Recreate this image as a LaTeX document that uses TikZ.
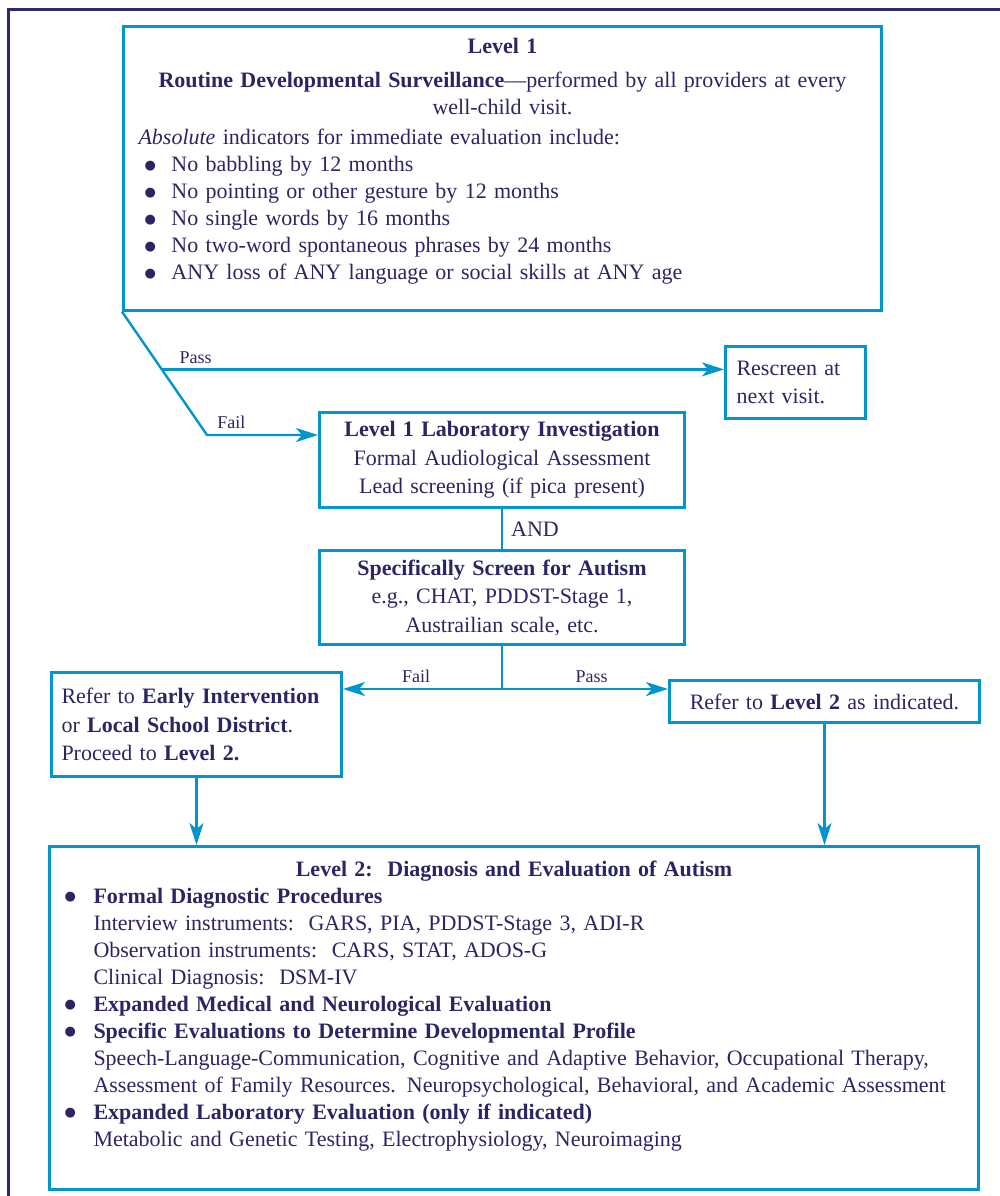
\documentclass[tikz,border=0pt]{standalone}
\usepackage{fontspec}
\setmainfont{Liberation Serif}
\newfontfamily\symfont{DejaVu Sans}
\usetikzlibrary{calc,positioning,arrows.meta}
\definecolor{navy}{RGB}{42,38,100}
\definecolor{boxblue}{RGB}{0,150,205}
\definecolor{framenavy}{RGB}{44,42,108}
\newcommand{\bul}[1][13.5pt]{\makebox[#1][l]{\raisebox{1.3pt}{\symfont\fontsize{6.5}{6.5}\selectfont ●}}}

\begin{document}
\begin{tikzpicture}[x=0.5pt,y=-0.5pt,
block/.style = {rectangle, draw=boxblue, line width=1.5pt, text=navy, inner xsep=5pt,
                inner ysep=4pt, font=\fontsize{11}{14.25}\selectfont, align=center,
                anchor=north west},
lbl/.style = {text=navy, font=\fontsize{9}{11}\selectfont, inner sep=2.5pt},
link/.style = {draw=boxblue, line width=1.2pt},
line/.style = {link, -{Stealth[length=11pt,width=7pt,inset=3pt]}}]

\useasboundingbox (0,0) rectangle (1000,1196);
% outer frame, only top and left edges show
\draw[framenavy, line width=1.5pt] (8,1210) -- (8,9) -- (1010,9);

% level 1
\node[block, text width=364pt, inner xsep=7.5pt, inner ysep=6pt, align=left,
      font=\fontsize{11}{13.5}\selectfont] (lvlone) at (122,25)
{{\centering\textbf{Level 1}\\[3.5pt]
\textbf{Routine Developmental Surveillance}—performed by all providers at every\\
well-child visit.\par}
\vspace{1.5pt}
\textit{Absolute} indicators for immediate evaluation include:\\
\hspace*{3pt}\bul No babbling by 12 months\\
\hspace*{3pt}\bul No pointing or other gesture by 12 months\\
\hspace*{3pt}\bul No single words by 16 months\\
\hspace*{3pt}\bul No two-word spontaneous phrases by 24 months\\
\hspace*{3pt}\bul ANY loss of ANY language or social skills at ANY age\rule[-9.2pt]{0pt}{9.2pt}};

\node[block, text width=59pt, inner xsep=5.5pt, minimum height=36pt, align=left]
  (rescreen) at (724,345) {Rescreen at\\next visit.};

\node[block, text width=172.5pt, minimum height=47.5pt] (labinv) at (318,411)
  {\textbf{Level 1 Laboratory Investigation}\\Formal Audiological Assessment\\
   Lead screening (if pica present)};

\node[block, text width=172.5pt, minimum height=47pt] (screen) at (318,549)
  {\textbf{Specifically Screen for Autism}\\e.g., CHAT, PDDST-Stage 1,\\
   Austrailian scale, etc.};

% referrals
\node[block, text width=135pt, minimum height=52pt, align=left] (refei) at (50,671)
  {Refer to \textbf{Early Intervention}\\or \textbf{Local School District}.\\
   Proceed to \textbf{Level 2.}};
\node[block, text width=145pt, minimum height=21pt] (refltwo) at (668,679)
  {Refer to \textbf{Level 2} as indicated.};

% level 2
\node[block, text width=449.5pt, inner xsep=7.5pt, inner ysep=7pt, align=left,
      font=\fontsize{11}{13.5}\selectfont] (lvltwo) at (48,845)
{{\centering\textbf{Level 2:\ \ Diagnosis and Evaluation of Autism}\par}
\bul[14.5pt]\textbf{Formal Diagnostic Procedures}\\
\hspace*{14.5pt}Interview instruments:\ \ GARS, PIA, PDDST-Stage 3, ADI-R\\
\hspace*{14.5pt}Observation instruments:\ \ CARS, STAT, ADOS-G\\
\hspace*{14.5pt}Clinical Diagnosis:\ \ DSM-IV\\
\bul[14.5pt]\textbf{Expanded Medical and Neurological Evaluation}\\
\bul[14.5pt]\textbf{Specific Evaluations to Determine Developmental Profile}\\
\hspace*{14.5pt}\mbox{Speech-Language-Communication, Cognitive and Adaptive Behavior, Occupational Therapy,}\\
\hspace*{14.5pt}\mbox{Assessment of Family Resources. Neuropsychological, Behavioral, and Academic Assessment}\\
\bul[14.5pt]\textbf{Expanded Laboratory Evaluation (only if indicated)}\\
\hspace*{14.5pt}Metabolic and Genetic Testing, Electrophysiology, Neuroimaging\rule[-14.6pt]{0pt}{14.6pt}};

% connectors
\coordinate (failbend) at (207,435);
\coordinate (passfork) at ($(lvlone.south west)!0.468!(failbend)$);
\coordinate (split) at ($(screen.south)+(0,43)$);

\path[line] (lvlone.south west) -- (failbend)
  -- node[lbl, above, pos=0.22] {Fail} (failbend -| labinv.west);
\path[line] (passfork) -- node[lbl, above, pos=0.06] {Pass} (passfork -| rescreen.west);
\path[link] (labinv.south) -- node[right, text=navy, font=\fontsize{11}{13}\selectfont,
  inner sep=4pt] {AND} (screen.north);
\path[link] (screen.south) -- (split);
\path[line] (split) -- node[lbl, above, pos=0.54] {Fail} (split -| refei.east);
\path[line] (split) -- node[lbl, above, pos=0.54] {Pass} (split -| refltwo.west);
\path[line] (refei.south) -- (refei.south |- lvltwo.north);
\path[line] (refltwo.south) -- (refltwo.south |- lvltwo.north);
\end{tikzpicture}
\end{document}
